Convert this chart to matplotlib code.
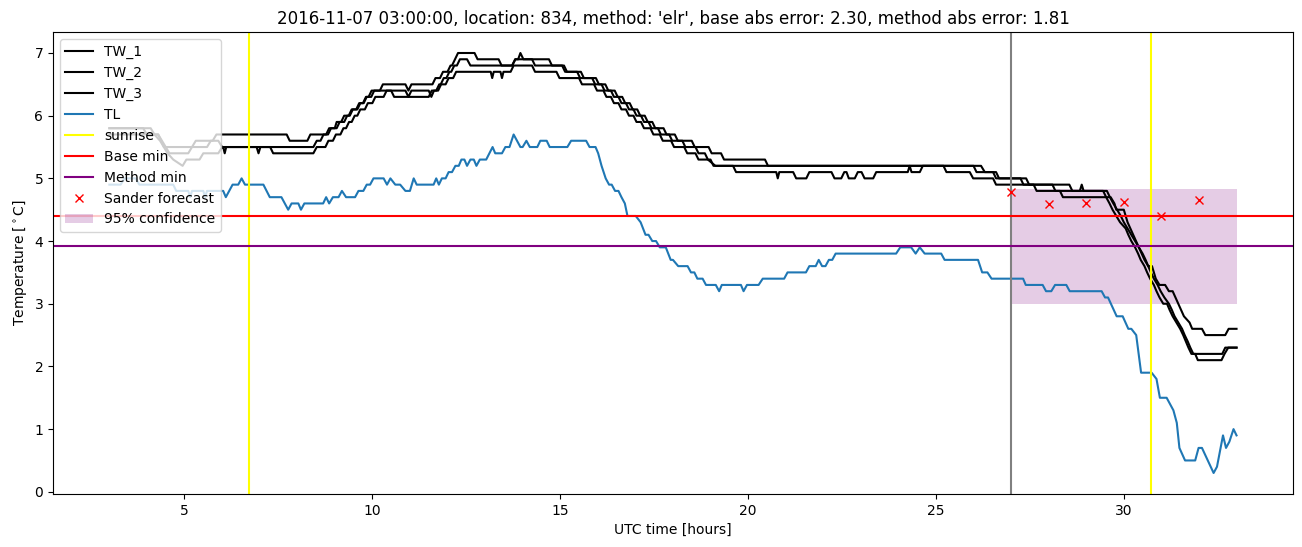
import numpy as np
import matplotlib.pyplot as plt

# time [h] / value [degC] breakpoints
tw1_t = [3.0, 4.1, 4.2, 4.35, 4.45, 5.2, 5.3, 5.75, 5.85, 7.72, 7.8, 8.27, 8.35, 8.77, 8.85, 9.05,
         9.13, 9.25, 9.33, 9.4, 9.48, 9.6, 9.68, 9.75, 9.83, 9.9, 9.98, 10.2, 10.28, 10.88, 10.96,
         11.04, 11.6, 11.68, 11.8, 11.88, 12.0, 12.08, 12.12, 12.2, 12.28, 12.72, 12.8, 13.36, 13.44,
         13.72, 13.8, 13.88, 13.94, 14.02, 14.7, 14.78, 15.1, 15.18, 15.55, 15.63, 15.95, 16.03,
         16.2, 16.28, 16.45, 16.53, 16.65, 16.73, 16.85, 16.93, 17.05, 17.13, 17.25, 17.33, 17.45,
         17.53, 17.75, 17.83, 18.05, 18.13, 18.5, 18.58, 18.95, 19.03, 19.28, 19.36, 20.45, 20.53,
         26.2, 26.3, 26.52, 26.6, 27.25, 27.33, 28.55, 28.63, 28.83, 28.88, 28.93, 29.45, 29.53,
         29.65, 29.75, 29.8, 30.0, 30.1, 30.25, 30.4, 30.55, 30.65, 30.75, 30.85, 30.95, 31.1, 31.2,
         31.3, 31.45, 31.6, 31.75, 31.82, 32.08, 32.17, 32.7, 32.79, 33.0]
tw1_v = [5.8, 5.8, 5.7, 5.6, 5.5, 5.5, 5.6, 5.6, 5.7, 5.7, 5.6, 5.6, 5.7, 5.7, 5.8, 5.8,
         5.9, 5.9, 6.0, 6.0, 6.1, 6.1, 6.2, 6.2, 6.3, 6.3, 6.4, 6.4, 6.5, 6.5, 6.4,
         6.5, 6.5, 6.6, 6.6, 6.7, 6.7, 6.8, 6.8, 6.9, 7.0, 7.0, 6.9, 6.9, 6.8,
         6.8, 6.9, 6.9, 7.0, 6.9, 6.9, 6.8, 6.8, 6.7, 6.7, 6.6, 6.6, 6.5,
         6.5, 6.4, 6.4, 6.3, 6.3, 6.2, 6.2, 6.1, 6.1, 6.0, 6.0, 5.9, 5.9,
         5.8, 5.8, 5.7, 5.7, 5.6, 5.6, 5.5, 5.5, 5.4, 5.4, 5.3, 5.3, 5.2,
         5.2, 5.1, 5.1, 5.0, 5.0, 4.9, 4.9, 4.8, 4.8, 4.9, 4.8, 4.8, 4.7,
         4.7, 4.6, 4.5, 4.5, 4.3, 4.1, 3.9, 3.7, 3.6, 3.6, 3.4, 3.3, 3.3, 3.2,
         3.2, 3.0, 2.8, 2.7, 2.6, 2.6, 2.5, 2.5, 2.6, 2.6]

tw2_t = [3.0, 3.9, 4.0, 4.3, 4.4, 4.5, 4.6, 5.1, 5.2, 5.6, 5.7, 5.9, 6.0, 8.43, 8.52, 8.62, 8.7,
         8.82, 8.9, 9.0, 9.05, 9.17, 9.25, 9.37, 9.45, 9.57, 9.65, 9.77, 9.85, 9.97, 10.05, 10.88,
         10.96, 11.04, 11.5, 11.57, 11.64, 11.7, 11.78, 11.82, 11.9, 11.97, 12.05, 12.1, 12.18, 12.25,
         12.33, 12.52, 12.61, 13.72, 13.81, 14.25, 14.33, 15.05, 15.13, 15.45, 15.53, 15.85, 15.93,
         16.1, 16.18, 16.35, 16.43, 16.55, 16.63, 16.75, 16.83, 16.95, 17.03, 17.15, 17.23, 17.35,
         17.43, 17.6, 17.68, 17.9, 17.98, 18.25, 18.33, 18.6, 18.68, 18.85, 18.93, 19.13, 25.2,
         25.28, 25.9, 25.99, 26.52, 26.6, 27.6, 27.68, 28.3, 28.38, 29.45, 29.53, 29.62, 29.7,
         29.8, 29.9, 30.05, 30.12, 30.2, 30.3, 30.38, 30.45, 30.55, 30.62, 30.7, 30.8, 30.87, 30.95,
         31.05, 31.15, 31.22, 31.3, 31.4, 31.5, 31.58, 31.65, 31.72, 31.8, 32.62, 32.7, 33.0]
tw2_v = [5.8, 5.8, 5.7, 5.7, 5.6, 5.5, 5.4, 5.4, 5.5, 5.5, 5.6, 5.6, 5.5, 5.5, 5.6, 5.6, 5.7,
         5.7, 5.8, 5.8, 5.9, 5.9, 6.0, 6.0, 6.1, 6.1, 6.2, 6.2, 6.3, 6.3, 6.4, 6.4,
         6.3, 6.4, 6.4, 6.3, 6.4, 6.4, 6.5, 6.5, 6.6, 6.6, 6.7, 6.7, 6.8, 6.8,
         6.9, 6.9, 6.8, 6.8, 6.9, 6.9, 6.8, 6.8, 6.7, 6.7, 6.6, 6.6, 6.5,
         6.5, 6.4, 6.4, 6.3, 6.3, 6.2, 6.2, 6.1, 6.1, 6.0, 6.0, 5.9, 5.9,
         5.8, 5.8, 5.7, 5.7, 5.6, 5.6, 5.5, 5.5, 5.4, 5.4, 5.3, 5.2, 5.2,
         5.1, 5.1, 5.0, 5.0, 4.9, 4.9, 4.8, 4.8, 4.7, 4.7, 4.7, 4.6, 4.5,
         4.4, 4.3, 4.2, 4.1, 4.0, 3.9, 3.8, 3.7, 3.6, 3.5, 3.4, 3.3, 3.2, 3.1,
         3.0, 3.0, 2.9, 2.8, 2.7, 2.6, 2.5, 2.4, 2.3, 2.2, 2.2, 2.3, 2.3]

tw3_t = [3.0, 4.3, 4.45, 4.55, 4.7, 4.95, 5.05, 5.4, 5.5, 5.9, 6.0, 6.03, 6.07, 6.11, 6.92, 6.97,
         7.02, 7.28, 7.36, 8.43, 8.52, 8.75, 8.83, 8.95, 9.03, 9.15, 9.23, 9.3, 9.38, 9.45, 9.53,
         9.6, 9.68, 9.8, 9.88, 10.0, 10.08, 10.3, 10.38, 10.5, 10.58, 11.5, 11.58, 11.75, 11.83,
         11.95, 12.03, 12.15, 12.23, 12.48, 13.15, 13.19, 13.23, 13.41, 13.45, 13.49, 13.68, 13.76,
         14.25, 14.33, 14.9, 14.98, 15.5, 15.58, 15.9, 15.98, 16.15, 16.23, 16.35, 16.43, 16.55,
         16.63, 16.75, 16.83, 16.95, 17.03, 17.15, 17.23, 17.4, 17.48, 17.65, 17.73, 17.95, 18.03,
         18.3, 18.38, 18.6, 18.68, 19.0, 19.08, 19.6, 19.68, 20.75, 20.79, 20.83, 21.2, 21.28, 21.55,
         21.63, 22.22, 22.3, 22.48, 22.56, 22.62, 22.68, 22.84, 22.92, 23.02, 23.1, 23.33, 23.41,
         24.25, 24.3, 24.35, 24.57, 24.65, 26.0, 26.08, 26.6, 26.68, 27.4, 27.48, 28.1, 28.18,
         29.55, 29.63, 29.72, 29.82, 29.92, 30.0, 30.1, 30.2, 30.3, 30.4, 30.5, 30.58, 30.65, 30.72,
         30.8, 30.9, 30.98, 31.08, 31.2, 31.28, 31.35, 31.45, 31.55, 31.62, 31.7, 31.77, 31.85,
         31.9, 31.97, 32.6, 32.68, 32.78, 33.0]
tw3_v = [5.7, 5.7, 5.5, 5.4, 5.3, 5.2, 5.3, 5.3, 5.4, 5.4, 5.5, 5.5, 5.4, 5.5, 5.5, 5.4,
         5.5, 5.5, 5.4, 5.4, 5.5, 5.5, 5.6, 5.6, 5.7, 5.7, 5.8, 5.8, 5.9, 5.9, 6.0,
         6.0, 6.1, 6.1, 6.2, 6.2, 6.3, 6.3, 6.4, 6.4, 6.3, 6.3, 6.4, 6.4, 6.5,
         6.5, 6.6, 6.6, 6.7, 6.7, 6.7, 6.6, 6.7, 6.7, 6.6, 6.7, 6.7, 6.8,
         6.8, 6.7, 6.7, 6.6, 6.6, 6.5, 6.5, 6.4, 6.4, 6.3, 6.3, 6.2, 6.2,
         6.1, 6.1, 6.0, 6.0, 5.9, 5.9, 5.8, 5.8, 5.7, 5.7, 5.6, 5.6, 5.5,
         5.5, 5.4, 5.4, 5.3, 5.3, 5.2, 5.2, 5.1, 5.1, 5.0, 5.1, 5.1, 5.0, 5.0,
         5.1, 5.1, 5.0, 5.0, 5.1, 5.1, 5.0, 5.0, 5.1, 5.1, 5.0, 5.0, 5.1,
         5.1, 5.2, 5.1, 5.1, 5.2, 5.2, 5.1, 5.1, 5.0, 5.0, 4.9, 4.9, 4.8,
         4.8, 4.7, 4.6, 4.5, 4.4, 4.3, 4.2, 4.1, 4.0, 3.9, 3.8, 3.7, 3.6, 3.5,
         3.4, 3.3, 3.2, 3.1, 3.0, 2.9, 2.8, 2.7, 2.6, 2.5, 2.4, 2.3, 2.2,
         2.2, 2.1, 2.1, 2.2, 2.3, 2.3]

tl_t = [3.0, 3.3, 3.4, 3.7, 3.8, 4.7, 4.78, 5.1, 5.15, 5.2, 5.5, 5.55, 5.6, 6.03, 6.1, 6.28,
        6.43, 6.52, 6.61, 7.1, 7.27, 7.58, 7.76, 7.85, 8.03, 8.1, 8.19, 8.69, 8.77, 8.85, 8.95,
        9.1, 9.19, 9.3, 9.54, 9.63, 9.76, 9.85, 9.94, 10.03, 10.3, 10.39, 10.48, 10.61, 10.74,
        10.88, 11.0, 11.1, 11.18, 11.63, 11.7, 11.77, 11.85, 11.95, 12.03, 12.12, 12.21, 12.3,
        12.37, 12.45, 12.52, 12.61, 12.7, 12.77, 12.86, 13.03, 13.2, 13.27, 13.45, 13.54, 13.65,
        13.76, 13.94, 14.0, 14.1, 14.19, 14.39, 14.47, 14.64, 14.72, 15.19, 15.29, 15.69, 15.78,
        15.94, 16.01, 16.1, 16.21, 16.3, 16.37, 16.46, 16.55, 16.63, 16.72, 16.79, 17.01, 17.14,
        17.27, 17.35, 17.45, 17.55, 17.65, 17.81, 17.94, 18.0, 18.14, 18.39, 18.48, 18.57, 18.65,
        18.79, 18.88, 19.14, 19.23, 19.3, 19.81, 19.88, 19.97, 20.28, 20.39, 20.96, 21.05, 21.54,
        21.63, 21.8, 21.88, 21.97, 22.06, 22.15, 22.24, 22.33, 23.94, 24.05, 24.34, 24.46, 24.57,
        24.7, 25.14, 25.23, 26.12, 26.23, 26.37, 26.48, 27.32, 27.39, 27.84, 27.93, 28.07, 28.17,
        28.47, 28.56, 29.41, 29.5, 29.58, 29.81, 29.97, 30.12, 30.2, 30.33, 30.46, 30.74, 30.87,
        30.96, 31.14, 31.32, 31.41, 31.48, 31.63, 31.9, 31.99, 32.08, 32.39, 32.48, 32.64, 32.72,
        32.81, 32.92, 33.0]
tl_v = [4.9, 4.9, 5.0, 5.0, 4.9, 4.9, 4.8, 4.8, 4.7, 4.8, 4.8, 4.7, 4.8, 4.8, 4.7, 4.9,
        4.9, 5.0, 4.9, 4.9, 4.7, 4.7, 4.5, 4.6, 4.6, 4.5, 4.6, 4.6, 4.7, 4.6, 4.7,
        4.7, 4.8, 4.7, 4.7, 4.8, 4.8, 4.9, 4.9, 5.0, 5.0, 4.9, 5.0, 4.9, 4.9,
        4.8, 4.8, 5.0, 4.9, 4.9, 5.0, 4.9, 5.0, 5.0, 5.1, 5.1, 5.2, 5.2,
        5.3, 5.3, 5.2, 5.3, 5.3, 5.2, 5.3, 5.3, 5.5, 5.4, 5.4, 5.5, 5.5,
        5.7, 5.5, 5.5, 5.6, 5.5, 5.5, 5.6, 5.6, 5.5, 5.5, 5.6, 5.6, 5.5,
        5.5, 5.4, 5.2, 5.0, 4.9, 4.9, 4.8, 4.8, 4.7, 4.6, 4.4, 4.4, 4.3,
        4.1, 4.1, 4.0, 4.0, 3.9, 3.9, 3.7, 3.7, 3.6, 3.6, 3.5, 3.5, 3.4,
        3.4, 3.3, 3.3, 3.2, 3.3, 3.3, 3.2, 3.3, 3.3, 3.4, 3.4, 3.5, 3.5,
        3.6, 3.6, 3.7, 3.6, 3.6, 3.7, 3.7, 3.8, 3.8, 3.9, 3.9, 3.8, 3.9,
        3.8, 3.8, 3.7, 3.7, 3.5, 3.5, 3.4, 3.4, 3.3, 3.3, 3.2, 3.2, 3.3,
        3.3, 3.2, 3.2, 3.1, 3.1, 2.8, 2.8, 2.6, 2.6, 2.5, 1.9, 1.9, 1.8,
        1.5, 1.5, 1.3, 1.1, 0.7, 0.5, 0.5, 0.7, 0.7, 0.3, 0.4, 0.9, 0.7,
        0.8, 1.0, 0.9]

sunrise = [6.73, 30.73]
forecast_time = 27.0
base_min = 4.40
method_min = 3.92
sander_t = [27, 28, 29, 30, 31, 32]
sander_v = [4.79, 4.59, 4.60, 4.62, 4.40, 4.65]
conf_t = [27.0, 33.0]
conf_low = [3.0, 3.0]
conf_high = [4.83, 4.83]

fig = plt.figure(figsize=(13.02, 5.47), dpi=100)
ax = fig.add_axes([0.0407, 0.0969, 0.9523, 0.8446])

ax.plot(tw1_t, tw1_v, color='black', label='TW_1')
ax.plot(tw2_t, tw2_v, color='black', label='TW_2')
ax.plot(tw3_t, tw3_v, color='black', label='TW_3')
ax.plot(tl_t, tl_v, label='TL')
ax.axvline(sunrise[0], color='yellow', label='sunrise')
ax.axvline(sunrise[1], color='yellow')
ax.axvline(forecast_time, color='grey')
ax.axhline(base_min, color='red', label='Base min')
ax.axhline(method_min, color='purple', label='Method min')
ax.plot(sander_t, sander_v, 'rx', label='Sander forecast')
ax.fill_between(conf_t, conf_low, conf_high, color='purple', alpha=0.2, linewidth=0,
                label='95% confidence')

ax.set_title("2016-11-07 03:00:00, location: 834, method: 'elr', "
             "base abs error: 2.30, method abs error: 1.81")
ax.set_xlabel('UTC time [hours]')
ax.set_ylabel(r'Temperature [$^\circ$C]')
ax.legend(loc='upper left')

fig.savefig('out.png')
